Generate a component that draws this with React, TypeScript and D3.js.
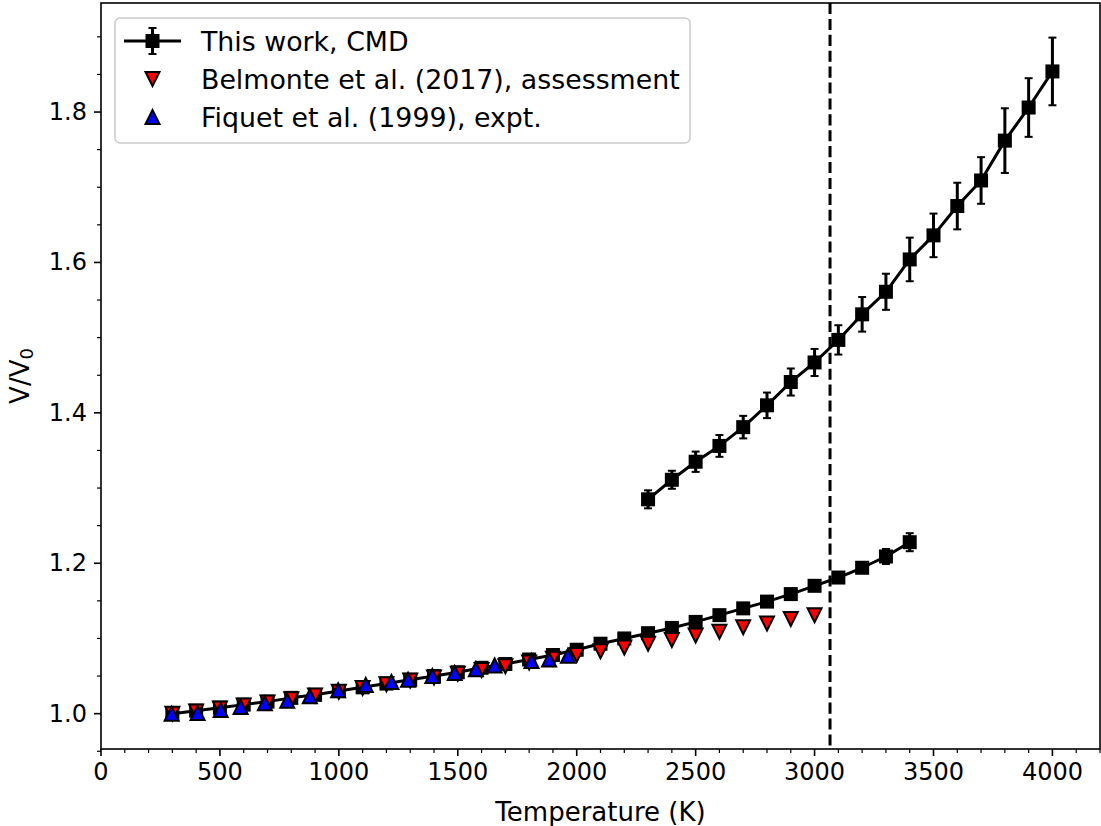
import React from "react";
import * as d3 from "d3";

// ---------- Data ----------
const cmdLowT = [300, 400, 500, 600, 700, 800, 900, 1000, 1100, 1200, 1300, 1400, 1500, 1600, 1700, 1800, 1900, 2000, 2100, 2200, 2300, 2400, 2500, 2600, 2700, 2800, 2900, 3000, 3100, 3200, 3300, 3400];
const cmdLowV = [1.000, 1.004, 1.008, 1.012, 1.016, 1.021, 1.025, 1.030, 1.035, 1.040, 1.045, 1.050, 1.055, 1.061, 1.066, 1.072, 1.078, 1.085, 1.093, 1.100, 1.107, 1.114, 1.122, 1.131, 1.140, 1.149, 1.159, 1.170, 1.181, 1.194, 1.209, 1.228];
const cmdLowErr = [0.003, 0.003, 0.003, 0.003, 0.003, 0.003, 0.003, 0.003, 0.003, 0.003, 0.003, 0.003, 0.003, 0.003, 0.003, 0.003, 0.003, 0.003, 0.004, 0.004, 0.004, 0.004, 0.004, 0.004, 0.004, 0.004, 0.004, 0.005, 0.005, 0.006, 0.010, 0.012];

const cmdHighT = [2300, 2400, 2500, 2600, 2700, 2800, 2900, 3000, 3100, 3200, 3300, 3400, 3500, 3600, 3700, 3800, 3900, 4000];
const cmdHighV = [1.285, 1.311, 1.335, 1.356, 1.381, 1.410, 1.441, 1.467, 1.497, 1.531, 1.561, 1.604, 1.636, 1.675, 1.709, 1.762, 1.806, 1.854];
const cmdHighErr = [0.012, 0.012, 0.0135, 0.0145, 0.015, 0.017, 0.018, 0.018, 0.0195, 0.023, 0.024, 0.029, 0.029, 0.031, 0.031, 0.043, 0.039, 0.045];

const belT = [300, 400, 500, 600, 700, 800, 900, 1000, 1100, 1200, 1300, 1400, 1500, 1600, 1700, 1800, 1900, 2000, 2100, 2200, 2300, 2400, 2500, 2600, 2700, 2800, 2900, 3000];
const belV = [1.000, 1.003, 1.007, 1.011, 1.015, 1.019, 1.024, 1.029, 1.034, 1.039, 1.044, 1.048, 1.053, 1.058, 1.063, 1.068, 1.073, 1.078, 1.083, 1.088, 1.093, 1.098, 1.104, 1.109, 1.115, 1.120, 1.126, 1.131];

const fiqT = [297, 406, 503, 587, 689, 783, 878, 997, 1113, 1221, 1291, 1393, 1487, 1576, 1655, 1810, 1884, 1963];
const fiqV = [1.000, 1.001, 1.005, 1.009, 1.014, 1.017, 1.023, 1.031, 1.038, 1.042, 1.045, 1.050, 1.054, 1.059, 1.064, 1.070, 1.072, 1.077];

const meltT = 3065;

const xTicks = [0, 500, 1000, 1500, 2000, 2500, 3000, 3500, 4000];
const yTicks = [1.0, 1.2, 1.4, 1.6, 1.8];

const legendLabels = ["This work, CMD", "Belmonte et al. (2017), assessment", "Fiquet et al. (1999), expt."];

// ---------- Layout ----------
const W = 1101, H = 826;
const L = 101, R = 1100, T = 3, B = 749;
const FONT = "DejaVu Sans, sans-serif";

const x = d3.scaleLinear().domain([0, 4200]).range([L, R]);
const y = d3.scaleLinear().domain([0.953, 1.945]).range([B, T]);

const xMinor = d3.range(0, 4201, 100).filter((v) => v % 500 !== 0);
const yMinor = d3.range(0.95, 1.95, 0.05).map((v) => Math.round(v * 100) / 100).filter((v) => Math.abs((v * 10) % 2) > 1e-6 && Math.abs(((v * 10) % 2) - 2) > 1e-6);

const line = d3.line<[number, number]>().x((d) => x(d[0])).y((d) => y(d[1]));

const SQ = 12;
const TRI = 7;

function Square({ cx, cy }: { cx: number; cy: number }) {
  return <rect x={cx - SQ / 2} y={cy - SQ / 2} width={SQ} height={SQ} fill="#000" stroke="#000" strokeWidth={2} />;
}
function TriDown({ cx, cy, fill }: { cx: number; cy: number; fill: string }) {
  return <path d={`M${cx - TRI},${cy - TRI}L${cx + TRI},${cy - TRI}L${cx},${cy + TRI}Z`} fill={fill} stroke="#000" strokeWidth={2} strokeLinejoin="miter" />;
}
function TriUp({ cx, cy, fill }: { cx: number; cy: number; fill: string }) {
  return <path d={`M${cx - TRI},${cy + TRI}L${cx + TRI},${cy + TRI}L${cx},${cy - TRI}Z`} fill={fill} stroke="#000" strokeWidth={2} strokeLinejoin="miter" />;
}

function ErrSeries({ ts, vs, es }: { ts: number[]; vs: number[]; es: number[] }) {
  const pts = ts.map((t, i) => [t, vs[i]] as [number, number]);
  const cap = 4;
  return (
    <g>
      {ts.map((t, i) => {
        const cx = x(t);
        const y1 = y(vs[i] + es[i]);
        const y2 = y(vs[i] - es[i]);
        return (
          <g key={i} stroke="#000" strokeWidth={3}>
            <line x1={cx} x2={cx} y1={y1} y2={y2} />
            <line x1={cx - cap} x2={cx + cap} y1={y1} y2={y1} strokeWidth={2} />
            <line x1={cx - cap} x2={cx + cap} y1={y2} y2={y2} strokeWidth={2} />
          </g>
        );
      })}
      <path d={line(pts) || ""} fill="none" stroke="#000" strokeWidth={3} strokeLinejoin="round" />
      {pts.map((p, i) => (
        <Square key={i} cx={x(p[0])} cy={y(p[1])} />
      ))}
    </g>
  );
}

export default function App() {
  const legX = 115, legY = 18, legW = 575, legH = 125;
  const rows = [41, 79, 117];
  const hx = 152.5;
  return (
    <svg width={W} height={H} style={{ position: "absolute", left: 0, top: 0, background: "#fff" }} fontFamily={FONT}>
      <rect x={0} y={0} width={W} height={H} fill="#fff" />
      <defs>
        <clipPath id="plotclip">
          <rect x={L} y={T} width={R - L} height={B - T} />
        </clipPath>
      </defs>

      <g clipPath="url(#plotclip)">
        <ErrSeries ts={cmdLowT} vs={cmdLowV} es={cmdLowErr} />
        <ErrSeries ts={cmdHighT} vs={cmdHighV} es={cmdHighErr} />
        {belT.map((t, i) => (
          <TriDown key={"b" + i} cx={x(t)} cy={y(belV[i])} fill="#ff0000" />
        ))}
        {fiqT.map((t, i) => (
          <TriUp key={"f" + i} cx={x(t)} cy={y(fiqV[i])} fill="#0000ff" />
        ))}
        <line x1={x(meltT)} x2={x(meltT)} y1={T} y2={B} stroke="#000" strokeWidth={3} strokeDasharray="11.1,4.8" />
      </g>

      {/* spines */}
      <rect x={L} y={T} width={R - L} height={B - T} fill="none" stroke="#000" strokeWidth={1.6} />

      {/* x ticks */}
      {xTicks.map((t) => (
        <g key={"xt" + t}>
          <line x1={x(t)} x2={x(t)} y1={B} y2={B + 7} stroke="#000" strokeWidth={1.6} />
          <text x={x(t)} y={B + 13} textAnchor="middle" dominantBaseline="hanging" fontSize={24}>
            {t}
          </text>
        </g>
      ))}
      {xMinor.map((t) => (
        <line key={"xm" + t} x1={x(t)} x2={x(t)} y1={B} y2={B + 4} stroke="#000" strokeWidth={1.2} />
      ))}

      {/* y ticks */}
      {yTicks.map((v) => (
        <g key={"yt" + v}>
          <line x1={L - 7} x2={L} y1={y(v)} y2={y(v)} stroke="#000" strokeWidth={1.6} />
          <text x={L - 14} y={y(v)} textAnchor="end" dominantBaseline="central" fontSize={24}>
            {v.toFixed(1)}
          </text>
        </g>
      ))}
      {yMinor.map((v) => (
        <line key={"ym" + v} x1={L - 4} x2={L} y1={y(v)} y2={y(v)} stroke="#000" strokeWidth={1.2} />
      ))}

      {/* axis labels */}
      <text x={(L + R) / 2} y={812} textAnchor="middle" dominantBaseline="central" fontSize={26}>
        Temperature (K)
      </text>
      <text transform={`translate(20,${(T + B) / 2}) rotate(-90)`} textAnchor="middle" dominantBaseline="central" fontSize={26}>
        V/V<tspan fontSize={18} dy={6}>0</tspan>
      </text>

      {/* legend */}
      <rect x={legX} y={legY} width={legW} height={legH} rx={5} ry={5} fill="#fff" fillOpacity={0.8} stroke="#cccccc" strokeWidth={1.6} />
      <g>
        <line x1={hx} x2={hx} y1={rows[0] - 13} y2={rows[0] + 13} stroke="#000" strokeWidth={3} />
        <line x1={hx - 4} x2={hx + 4} y1={rows[0] - 13} y2={rows[0] - 13} stroke="#000" strokeWidth={2} />
        <line x1={hx - 4} x2={hx + 4} y1={rows[0] + 13} y2={rows[0] + 13} stroke="#000" strokeWidth={2} />
        <line x1={124} x2={181} y1={rows[0]} y2={rows[0]} stroke="#000" strokeWidth={3} />
        <Square cx={hx} cy={rows[0]} />
        <TriDown cx={hx} cy={rows[1]} fill="#ff0000" />
        <TriUp cx={hx} cy={rows[2]} fill="#0000ff" />
        {legendLabels.map((s, i) => (
          <text key={s} x={201} y={rows[i]} dominantBaseline="central" fontSize={26.8}>
            {s}
          </text>
        ))}
      </g>
    </svg>
  );
}
